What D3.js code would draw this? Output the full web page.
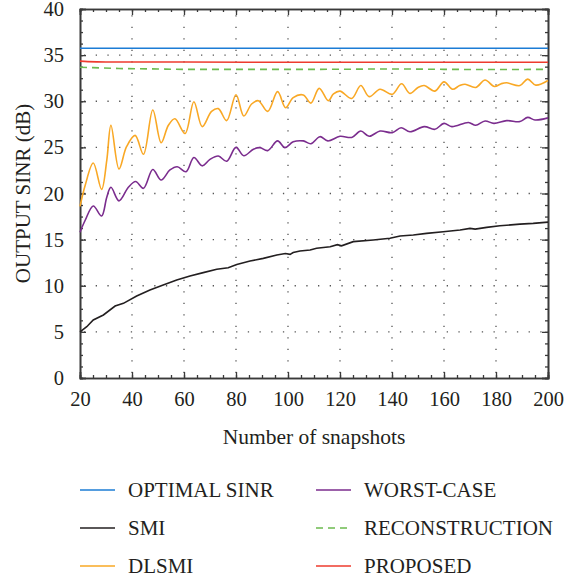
<!DOCTYPE html>
<html><head><meta charset="utf-8">
<script src="https://cdn.jsdelivr.net/npm/d3@7"></script>
<style>body{margin:0;background:#fff}svg text{font-family:"Liberation Serif","DejaVu Serif",serif;fill:#231f20}</style>
</head><body><svg id="c" width="565" height="583"></svg>
<script>
const xTicks = [20,40,60,80,100,120,140,160,180,200];
const yTicks = [0,5,10,15,20,25,30,35,40];
const seriesNames = ["OPTIMAL SINR","SMI","DLSMI","WORST-CASE","RECONSTRUCTION","PROPOSED"];

const optimalX = [20,200];
const optimalY = [35.74,35.74];
const smiX = [20,22.6,25.1,29,33.5,36.7,41.8,46.9,52,57.2,62.3,67.4,72.6,77,80.3,85.4,90.5,95.7,99,100.8,102,104.6,108.5,111,116.2,119,120.6,125.1,132.8,139.2,143.1,148.2,153.3,159.7,166.2,170,172,176.4,181.5,189.2,194.3,200];
const smiY = [5.0,5.56,6.29,6.83,7.8,8.09,8.89,9.54,10.08,10.62,11.06,11.42,11.78,11.96,12.3,12.68,12.97,13.33,13.5,13.4,13.6,13.77,13.88,14.06,14.23,14.45,14.33,14.78,14.96,15.14,15.39,15.5,15.68,15.86,16.04,16.22,16.14,16.33,16.5,16.68,16.76,16.9];
const dlsmiX = [20,22,25.1,28.3,30.3,31.9,35,37.9,41.2,44.4,48,51.2,54,56.5,60.4,63.8,67,70.6,73.2,76.4,80,83,86,88.6,92.2,96,99.1,102,105.9,108.8,112,115.5,117.5,120,124.5,128,131.2,135.4,140.1,143.7,146.9,150,152.4,156.5,160,163.3,166,168.1,172.2,175.8,179.4,182,184.1,189.2,192.2,195.3,200];
const dlsmiY = [18.6,20.9,23.3,20.45,23.6,27.4,22.66,25.07,26.3,24.25,29.05,25.5,27.4,28.1,26.5,29.95,27.25,28.9,29.2,27.9,30.7,28.4,29.7,30.06,28.9,31.04,29.3,30.4,30.68,29.8,31.4,30.06,30.8,31.1,30.3,31.7,30.5,31.3,30.75,31.9,30.85,31.5,31.7,31.1,32.1,31.3,31.7,31.85,31.5,32.3,31.6,31.9,32.0,31.7,32.4,31.75,32.25];
const worstX = [20,22,25.1,28.3,30.3,31.9,35,38.6,41.4,44.4,48,51.2,54.6,57.4,60.8,63.8,67,70,73.2,76.4,80,83,86.7,89.2,92.2,96,98.8,102,105.9,108.8,112.3,115.3,120,124.5,128,131.2,135.4,140.1,143.5,146.9,152.4,156.5,160,163,169.4,172.2,175.8,179.2,184.1,189.2,192.2,195,200];
const worstY = [15.8,17.1,18.65,17.56,19.6,20.67,19.2,20.67,21.3,20.56,22.6,21.46,22.55,22.9,22.36,23.9,23.0,23.7,24.06,23.5,25.0,24.1,24.8,24.97,24.65,25.7,24.97,25.6,25.7,25.4,26.16,25.7,26.2,26.08,26.77,26.2,26.77,26.6,27.13,26.7,27.25,26.96,27.6,27.25,27.7,27.4,27.86,27.6,27.9,27.8,28.25,27.97,28.2];
const reconX = [20,25,35,50,60,80,100,120,140,160,180,200];
const reconY = [33.68,33.64,33.55,33.5,33.46,33.46,33.45,33.47,33.5,33.46,33.44,33.46];
const propX = [20,23,30,60,100,140,170,200];
const propY = [34.35,34.3,34.26,34.25,34.22,34.23,34.22,34.22];

const colors = ["#1c7cd5","#231f20","#f9a825","#7b2d8e","#6cbb4f","#ee3b2e"];

const svg = d3.select("#c");
const L=80,R=548,T=9,B=378;
const x = d3.scaleLinear().domain([20,200]).range([L,R]);
const y = d3.scaleLinear().domain([0,40]).range([B,T]);

// grid
const g = svg.append("g");
g.selectAll(".hg").data(yTicks.filter(v=>v>0&&v<40)).join("line")
 .attr("x1",L).attr("x2",R).attr("y1",d=>y(d)).attr("y2",d=>y(d))
 .attr("stroke","#555").attr("stroke-width",1.3).attr("stroke-dasharray","1.3,10.4").attr("stroke-dashoffset",-4);
g.selectAll(".vg").data(xTicks.filter(v=>v>20&&v<200)).join("line")
 .attr("y1",B).attr("y2",T).attr("x1",d=>x(d)).attr("x2",d=>x(d))
 .attr("stroke","#555").attr("stroke-width",1.3).attr("stroke-dasharray","1.3,10.2").attr("stroke-dashoffset",-5);

// axes with inward ticks
const minorX = d3.range(20,200.1,5), minorY = d3.range(0,40.1,1.25);
const ax = svg.append("g");
ax.append("g").attr("transform",`translate(0,${B})`).call(d3.axisBottom(x).tickValues(minorX).tickSize(-3).tickFormat(""));
ax.append("g").attr("transform",`translate(0,${B})`).call(d3.axisBottom(x).tickValues(xTicks).tickSize(-6).tickPadding(13).tickFormat(d3.format("d")));
ax.append("g").attr("transform",`translate(0,${T})`).call(d3.axisTop(x).tickValues(minorX).tickSize(-3).tickFormat(""));
ax.append("g").attr("transform",`translate(0,${T})`).call(d3.axisTop(x).tickValues(xTicks).tickSize(-6).tickFormat(""));
ax.append("g").attr("transform",`translate(${L},0)`).call(d3.axisLeft(y).tickValues(minorY).tickSize(-3).tickFormat(""));
ax.append("g").attr("transform",`translate(${L},0)`).call(d3.axisLeft(y).tickValues(yTicks).tickSize(-6).tickPadding(16).tickFormat(d3.format("d")));
ax.append("g").attr("transform",`translate(${R},0)`).call(d3.axisRight(y).tickValues(minorY).tickSize(-3).tickFormat(""));
ax.append("g").attr("transform",`translate(${R},0)`).call(d3.axisRight(y).tickValues(yTicks).tickSize(-6).tickFormat(""));
ax.selectAll(".domain").attr("stroke","#3a3a3a").attr("stroke-width",1.6);
ax.selectAll(".tick line").attr("stroke","#3a3a3a").attr("stroke-width",1.3);
ax.selectAll("text").attr("font-size",20.5).attr("font-family","Liberation Serif").attr("fill","#231f20");

// series
const series = [
 {xs:optimalX,ys:optimalY,curve:d3.curveLinear,dash:null},
 {xs:smiX,ys:smiY,curve:d3.curveLinear,dash:null},
 {xs:dlsmiX,ys:dlsmiY,curve:d3.curveCatmullRom.alpha(0.5),dash:null},
 {xs:worstX,ys:worstY,curve:d3.curveCatmullRom.alpha(0.5),dash:null},
 {xs:reconX,ys:reconY,curve:d3.curveMonotoneX,dash:"7,5"},
 {xs:propX,ys:propY,curve:d3.curveMonotoneX,dash:null}
];
const plot = svg.append("g");
series.forEach((s,i)=>{
  const pts = s.xs.map((v,j)=>[v,s.ys[j]]);
  plot.append("path").attr("d",d3.line().x(d=>x(d[0])).y(d=>y(d[1])).curve(s.curve)(pts))
   .attr("fill","none").attr("stroke",colors[i]).attr("stroke-width",1.6)
   .attr("stroke-dasharray",s.dash);
});

// titles
svg.append("text").attr("x",(L+R)/2).attr("y",444).attr("text-anchor","middle").attr("font-size",21.5).text("Number of snapshots");
svg.append("text").attr("transform",`translate(30,${(T+B)/2}) rotate(-90)`).attr("text-anchor","middle").attr("font-size",21).text("OUTPUT SINR (dB)");

// legend
const order = [0,1,2,3,4,5];
const lg = svg.append("g");
order.forEach((i,k)=>{
  const col = Math.floor(k/3), row = k%3;
  const lx = col===0?80:316, ly = 490+row*38;
  lg.append("line").attr("x1",lx).attr("x2",lx+35).attr("y1",ly).attr("y2",ly)
    .attr("stroke",colors[i]).attr("stroke-width",1.6).attr("stroke-dasharray",i===4?"7,5":null);
  lg.append("text").attr("x",lx+48).attr("y",ly+7).attr("font-size",21).text(seriesNames[i]);
});
</script></body></html>
